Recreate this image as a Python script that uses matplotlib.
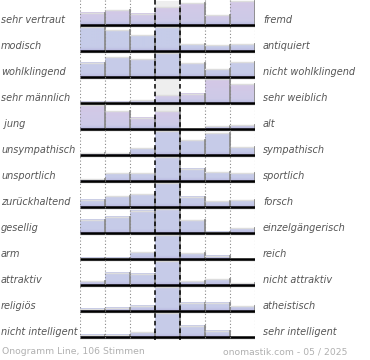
import matplotlib
matplotlib.use("Agg")
import matplotlib.pyplot as plt
import numpy as np
from matplotlib.colors import LinearSegmentedColormap, to_rgb

left_labels = ["sehr vertraut", "modisch", "wohlklingend", "sehr männlich", " jung",
               "unsympathisch", "unsportlich", "zurückhaltend", "gesellig", "arm",
               "attraktiv", "religiös", "nicht intelligent"]
right_labels = ["fremd", "antiquiert", "nicht wohlklingend", "sehr weiblich", "alt",
                "sympathisch", "sportlich", "forsch", "einzelgängerisch", "reich",
                "nicht attraktiv", "atheistisch", "sehr intelligent"]

# bar heights, relative to the tallest bar in each row (=24)
votes = [
    [12.3, 14.7, 11.3, 17.7, 21.7, 9.7, 24],
    [24, 20.6, 16, 24, 7, 6, 6.6],
    [14.3, 20, 18, 24, 13.6, 7.6, 14.6],
    [1.5, 1.5, 3, 7.7, 9.3, 24, 18.7],
    [24, 18, 11.3, 18, 0, 3, 4],
    [1.7, 2, 7, 24, 15, 21.7, 7.7],
    [1.7, 8, 8, 24, 12.3, 8.7, 7.7],
    [7.3, 10.7, 12.7, 24, 10.3, 6, 7],
    [13.3, 16.3, 22.3, 24, 12.7, 1.5, 5],
    [1.2, 1.2, 6.7, 24, 5.7, 3.3, 0],
    [4, 12.3, 11.3, 24, 4, 6, 1.7],
    [2.3, 3.3, 5.3, 24, 8.3, 8.3, 4.7],
    [2.3, 2.3, 4.7, 24, 11.3, 6.3, 0],
]
# how pink the top of each row's bars is (0 = blue, 1 = pink)
row_tint = [0.6, 0.0, 0.05, 0.65, 0.6, 0.05, 0.05, 0.05, 0.05, 0.05, 0.05, 0.05, 0.05]

W, H = 370, 360
fig = plt.figure(figsize=(W / 100, H / 100), dpi=100)
top_px, bot_px = 0, 343
ax = fig.add_axes([80 / W, 1 - bot_px / H, 175 / W, (bot_px - top_px) / H])
pitch = 26.0
ax.set_xlim(0, 7)
ax.set_ylim((bot_px - top_px) / pitch, 0)
ax.axis("off")

blue = np.array(to_rgb("#c6cce9"))
pink = np.array(to_rgb("#dcc6e5"))
purple = np.array(to_rgb("#aea6d6"))

for i, row in enumerate(votes):
    base = (25 + pitch * i) / pitch
    full = 24 / pitch
    # grey background in the middle column
    ax.fill_between([3, 4], base - full, base, color="#eeeeee", lw=0, zorder=1)
    top_col = blue * (1 - row_tint[i]) + pink * row_tint[i]
    cm = LinearSegmentedColormap.from_list(
        "g", [(0, top_col), (0.55, (top_col + blue) / 2),
              (0.85, blue * 0.7 + purple * 0.3), (1, purple)])
    for j, v in enumerate(row):
        if v <= 0:
            continue
        h = v / pitch
        # fade to purple over the last ~4px
        grad = np.linspace(0, 1, 64).reshape(-1, 1)
        band = min(1.0, 4 / v)
        g = np.where(grad < 1 - band, grad * 0.55 / max(1 - band, 1e-6),
                     0.55 + (grad - (1 - band)) / band * 0.45)
        ax.imshow(g, cmap=cm, vmin=0, vmax=1, aspect="auto",
                  extent=[j, j + 1, base, base - h], zorder=2, interpolation="bilinear")
        ax.plot([j, j + 1], [base - h, base - h], color="#dddddd", lw=1, zorder=3)
        ax.plot([j + 1, j + 1], [base - h, base], color="#8c8c8c", lw=1.3, zorder=3)
    ax.plot([0, 7], [base + 1.2 / pitch, base + 1.2 / pitch], color="#aaaaaa", lw=1, zorder=4)
    ax.plot([0, 7], [base, base], color="black", lw=1.8, zorder=5, solid_capstyle="butt")

for x in [0, 1, 2, 5, 6, 7]:
    ax.plot([x, x], [0, 340 / pitch], color="#888888", lw=0.8, ls=(0, (1, 2)), zorder=6)
for x in [3, 4]:
    ax.plot([x, x], [0, 340 / pitch], color="black", lw=1.1, ls=(0, (3, 2)), zorder=6)

for i in range(len(votes)):
    y = 1 - (20 + pitch * i) / H
    fig.text(1 / W, y, left_labels[i], ha="left", va="center", fontsize=7.0,
             style="italic", color="#555555")
    fig.text(263 / W, y, right_labels[i], ha="left", va="center", fontsize=7.0,
             style="italic", color="#555555")

fig.text(2 / W, 1 - 352 / H, "Onogramm Line, 106 Stimmen", ha="left", va="center",
         fontsize=6.7, color="#b0b0b0")
fig.text(347 / W, 1 - 352 / H, "onomastik.com - 05 / 2025", ha="right", va="center",
         fontsize=6.7, color="#b0b0b0")

fig.savefig("out.png", dpi=100)
